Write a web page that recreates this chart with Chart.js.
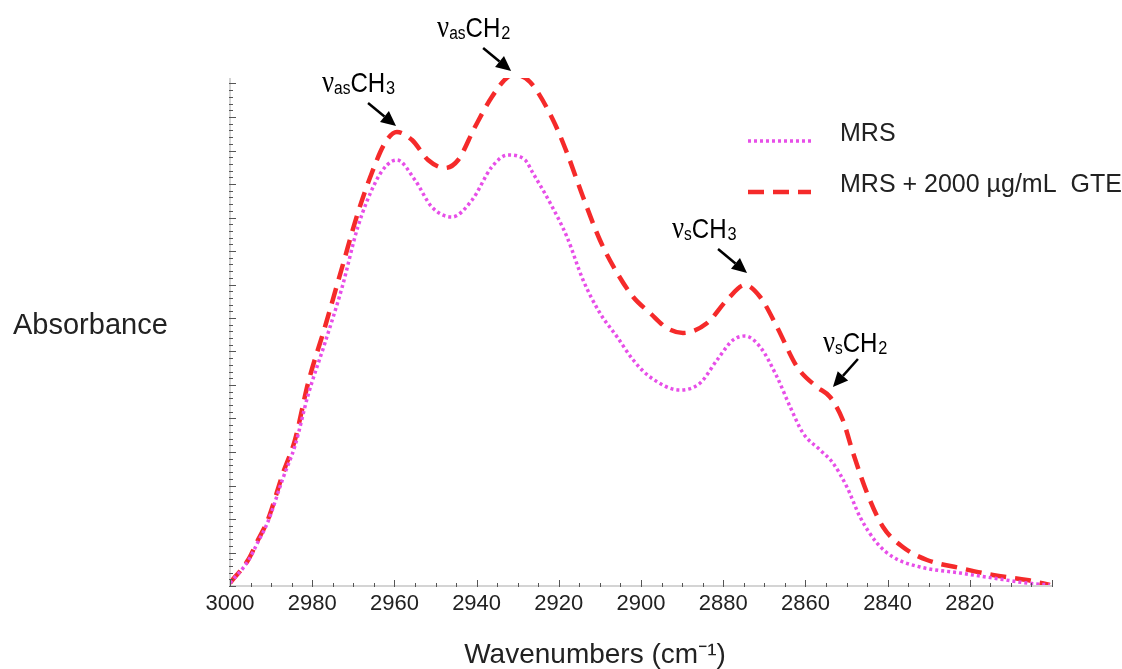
<!DOCTYPE html>
<html>
<head>
<meta charset="utf-8">
<script src="https://cdn.jsdelivr.net/npm/chart.js@4.4.0/dist/chart.umd.min.js"></script>
<style>
  html, body { margin: 0; padding: 0; background: #fff; }
  #wrap { position: relative; width: 1122px; height: 669px; }
</style>
</head>
<body>
<div id="wrap"><canvas id="ftir" width="1122" height="669"></canvas></div>
<script>
// wavenumbers (cm-1) and absorbance
var mrsWn = [3000, 2995.6, 2993.2, 2990.8, 2987.1, 2984.2, 2981.0, 2976.9, 2972.7, 2968.9, 2964.7, 2961.8,
  2959.4, 2955.0, 2950.9, 2946.0, 2941.1, 2936.3, 2932.4, 2928.2, 2926.3, 2922.1,
  2918.0, 2914.1, 2910.0, 2905.8, 2901.9, 2897.8, 2890.5, 2885.6, 2881.5, 2877.6,
  2874.7, 2871.0, 2866.9, 2863.7, 2860.6, 2856.4, 2853.3, 2849.9, 2846.7, 2842.6,
  2838.7, 2832.1, 2822.4, 2814.4, 2806.1, 2800.5];
var mrsAbs = [0.003, 0.025, 0.044, 0.064, 0.108, 0.140, 0.191, 0.243, 0.299, 0.359, 0.403, 0.421,
  0.426, 0.406, 0.379, 0.369, 0.386, 0.419, 0.431, 0.426, 0.413, 0.383,
  0.349, 0.306, 0.273, 0.249, 0.226, 0.209, 0.196, 0.203, 0.226, 0.246,
  0.250, 0.239, 0.209, 0.179, 0.153, 0.136, 0.123, 0.099, 0.069, 0.043,
  0.029, 0.019, 0.013, 0.008, 0.003, 0.001];

var gteWn = [3000, 2995.6, 2993.2, 2990.8, 2987.1, 2984.2, 2981.0, 2976.9, 2972.7, 2968.9, 2965.5, 2962.3,
  2959.4, 2955.7, 2951.8, 2947.7, 2944.5, 2940.4, 2936.3, 2932.4, 2930.7, 2927.0,
  2921.4, 2918.0, 2914.1, 2910.0, 2905.8, 2901.9, 2897.8, 2893.7, 2889.8, 2883.9,
  2879.1, 2874.7, 2871.0, 2866.9, 2862.0, 2857.2, 2854.0, 2850.9, 2848.4, 2845.0,
  2841.1, 2836.3, 2830.4, 2822.4, 2814.4, 2806.1, 2800.5];
var gteAbs = [0.003, 0.026, 0.046, 0.066, 0.113, 0.146, 0.203, 0.259, 0.319, 0.373, 0.413, 0.443,
  0.454, 0.446, 0.426, 0.418, 0.426, 0.459, 0.489, 0.509, 0.511, 0.504,
  0.466, 0.433, 0.389, 0.346, 0.313, 0.289, 0.273, 0.258, 0.253, 0.263,
  0.286, 0.301, 0.289, 0.259, 0.219, 0.199, 0.189, 0.166, 0.133, 0.093,
  0.059, 0.039, 0.026, 0.018, 0.011, 0.006, 0.001];

var seriesNames = ["MRS", "MRS + 2000 \u00b5g/mL  GTE"];
var xTicks = [3000, 2980, 2960, 2940, 2920, 2900, 2880, 2860, 2840, 2820];
var xTitle = "Wavenumbers (cm\u207b\u00b9)";
var yTitle = "Absorbance";

// band assignments: sub, group, group subscript, and where the arrow points
var bandSub = ["as", "as", "s", "s"];
var bandGroup = ["CH", "CH", "CH", "CH"];
var bandGroupSub = ["3", "2", "3", "2"];
var bandWn = [2959.6, 2931.6, 2874.2, 2853.3];
var bandAbs = [0.460, 0.515, 0.313, 0.199];

function pairs(xs, ys) {
  return xs.map(function(x, i) { return { x: x, y: ys[i] }; });
}

var SANS = "'Liberation Sans', Arial, sans-serif";

// arrow/text offsets from the arrow tip (pixels)
var bandLayout = [
  { tail: [-28, -23], text: [-74, -34] },
  { tail: [-28, -23], text: [-74, -34] },
  { tail: [-29, -24], text: [-75, -35] },
  { tail: [25, -28], text: [-10, -35] }
];

var decorations = {
  id: "decorations",
  afterDraw: function(chart) {
    var ctx = chart.ctx;
    var xs = chart.scales.x, ys = chart.scales.y;
    var a = chart.chartArea;
    ctx.save();

    // axis lines
    ctx.strokeStyle = "#d4d4d4";
    ctx.lineWidth = 2;
    ctx.beginPath();
    ctx.moveTo(a.left, a.top);
    ctx.lineTo(a.left, a.bottom);
    ctx.lineTo(a.right, a.bottom);
    ctx.stroke();

    // tick marks, pointing inward
    ctx.strokeStyle = "#555";
    ctx.lineWidth = 1;
    ctx.beginPath();
    for (var w = 2800; w <= 3000; w += 5) {
      var px = Math.round(xs.getPixelForValue(w)) + 0.5;
      var len = (w % 20 === 0) ? 6 : 3;
      ctx.moveTo(px, a.bottom + 1);
      ctx.lineTo(px, a.bottom - len);
    }
    for (var k = 0; k <= 76; k++) {
      var v = k * 0.0067;
      if (v > ys.max) break;
      var py = Math.round(ys.getPixelForValue(v)) + 0.5;
      var l2 = (k % 5 === 0) ? 6 : 3;
      ctx.moveTo(a.left - 1, py);
      ctx.lineTo(a.left + l2, py);
    }
    ctx.stroke();

    // axis titles
    ctx.fillStyle = "#222";
    ctx.textBaseline = "alphabetic";
    ctx.textAlign = "left";
    ctx.font = "29px " + SANS;
    ctx.fillText(yTitle, 13, 334);
    ctx.textAlign = "center";
    ctx.font = "28px " + SANS;
    ctx.fillText(xTitle, 595, 663);
    ctx.textAlign = "left";

    // legend
    chart.data.datasets.forEach(function(ds, i) {
      var y = 141 + i * 51;
      ctx.strokeStyle = ds.borderColor;
      ctx.lineWidth = ds.borderWidth;
      ctx.setLineDash(ds.borderDash);
      ctx.beginPath();
      ctx.moveTo(748, y);
      ctx.lineTo(811, y);
      ctx.stroke();
      ctx.setLineDash([]);
      ctx.fillStyle = "#222";
      ctx.font = "25px " + SANS;
      ctx.textBaseline = "alphabetic";
      ctx.fillText(ds.label, 840, y);
    });

    // band labels with arrows
    for (var b = 0; b < bandWn.length; b++) {
      var tx = xs.getPixelForValue(bandWn[b]);
      var ty = ys.getPixelForValue(bandAbs[b]);
      var lay = bandLayout[b];
      var sx = tx + lay.tail[0], sy = ty + lay.tail[1];
      var ang = Math.atan2(ty - sy, tx - sx);
      var head = 15, half = 7;
      var bx = tx - head * Math.cos(ang), by = ty - head * Math.sin(ang);
      ctx.strokeStyle = "#000";
      ctx.fillStyle = "#000";
      ctx.lineWidth = 2.5;
      ctx.beginPath();
      ctx.moveTo(sx, sy);
      ctx.lineTo(bx, by);
      ctx.stroke();
      ctx.beginPath();
      ctx.moveTo(tx, ty);
      ctx.lineTo(bx + half * Math.sin(ang), by - half * Math.cos(ang));
      ctx.lineTo(bx - half * Math.sin(ang), by + half * Math.cos(ang));
      ctx.closePath();
      ctx.fill();

      // text is a little condensed in the original
      var x0 = tx + lay.text[0], base = ty + lay.text[1];
      ctx.save();
      ctx.translate(x0, base);
      ctx.scale(0.86, 1);
      var cx = 0;
      ctx.textBaseline = "alphabetic";
      ctx.font = "31px 'Liberation Serif', 'Times New Roman', serif";
      ctx.fillText("\u03bd", cx, 0);
      cx += ctx.measureText("\u03bd").width;
      ctx.font = "18px " + SANS;
      ctx.fillText(bandSub[b], cx, 2);
      cx += ctx.measureText(bandSub[b]).width;
      ctx.font = "28px " + SANS;
      ctx.fillText(bandGroup[b], cx, 0);
      cx += ctx.measureText(bandGroup[b]).width + 1;
      ctx.font = "19px " + SANS;
      ctx.fillText(bandGroupSub[b], cx, 2);
      ctx.restore();
    }
    ctx.restore();
  }
};

var chart = new Chart(document.getElementById("ftir").getContext("2d"), {
  type: "line",
  data: {
    datasets: [
      {
        label: seriesNames[0],
        data: pairs(mrsWn, mrsAbs),
        borderColor: "#e74ee8",
        borderWidth: 3.5,
        borderDash: [3, 3],
        pointRadius: 0,
        cubicInterpolationMode: "monotone",
        fill: false
      },
      {
        label: seriesNames[1],
        data: pairs(gteWn, gteAbs),
        borderColor: "#f52a2a",
        borderWidth: 4.5,
        borderDash: [16, 9],
        pointRadius: 0,
        cubicInterpolationMode: "monotone",
        fill: false
      }
    ]
  },
  options: {
    responsive: false,
    animation: false,
    layout: { padding: { left: 230, top: 78, right: 70, bottom: 0 } },
    plugins: {
      legend: { display: false },
      tooltip: { enabled: false }
    },
    scales: {
      x: {
        type: "linear",
        reverse: true,
        min: 2800,
        max: 3000,
        afterBuildTicks: function(scale) {
          scale.ticks = xTicks.map(function(v) { return { value: v }; });
        },
        ticks: {
          color: "#222",
          font: { family: SANS, size: 22 },
          padding: 5,
          maxRotation: 0,
          autoSkip: false,
          callback: function(value) { return String(value); }
        },
        grid: { display: false, drawTicks: false },
        border: { display: false },
        afterFit: function(scale) { scale.height = 83; }
      },
      y: {
        min: 0,
        max: 0.508,
        ticks: { display: false },
        grid: { display: false, drawTicks: false },
        border: { display: false },
        afterFit: function(scale) { scale.width = 0; }
      }
    }
  },
  plugins: [decorations]
});
</script>
</body>
</html>
